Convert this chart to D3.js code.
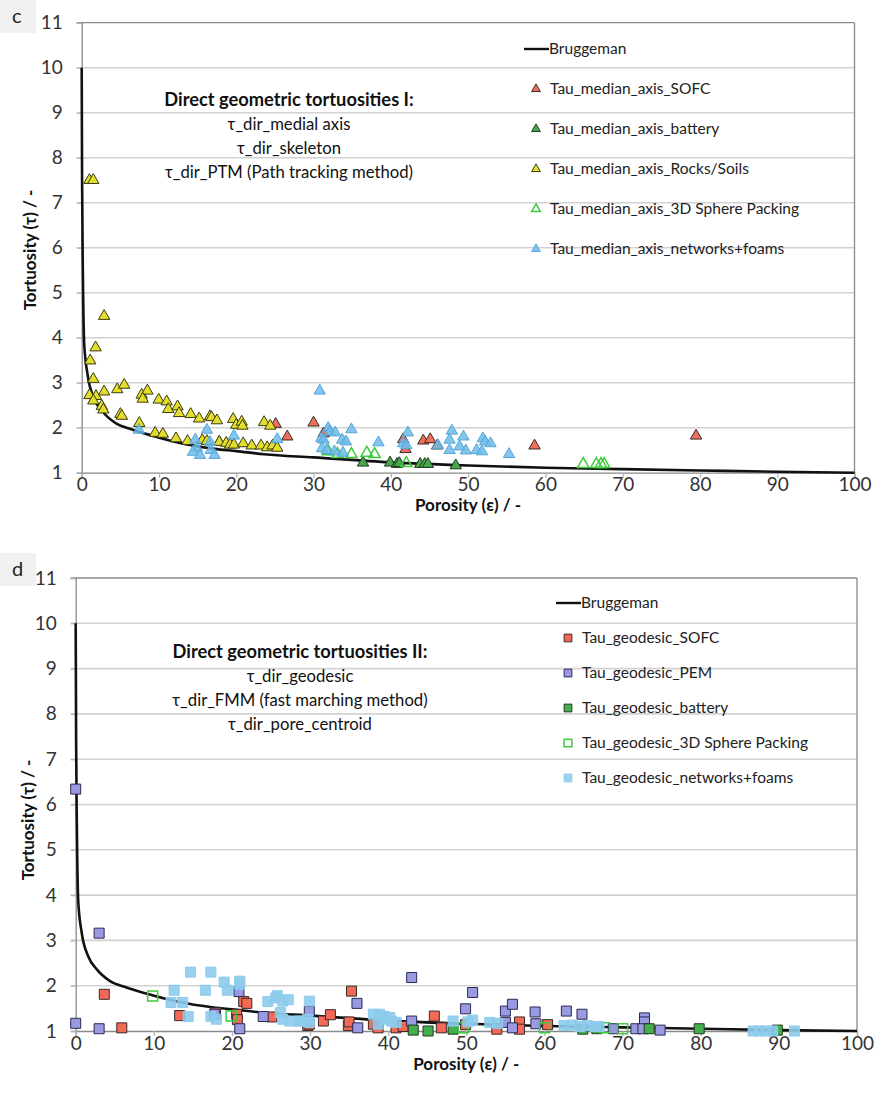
<!DOCTYPE html>
<html><head><meta charset="utf-8">
<script src="https://cdn.jsdelivr.net/npm/d3@7"></script>
<style>body{margin:0;background:#fff;} svg{display:block;font-family:Lato,'Open Sans',sans-serif;}</style>
</head><body><svg id="chart" width="877" height="1099"></svg>
<script>
// ---------- data ----------
const porosityTicks = [0,10,20,30,40,50,60,70,80,90,100];
const tortuosityTicks = [1,2,3,4,5,6,7,8,9,10,11];
const bruggemanPorosity = [0,0.05,0.15,0.33,0.77,1.6,2.7,4.4,6.5,9.8,13.3,17.2,20,23.6,30,40,50,60,70,80,90,100];
const bruggemanTau      = [10,7.5,5.5,3.85,3.17,2.65,2.36,2.1,1.96,1.79,1.64,1.53,1.48,1.41,1.34,1.23,1.16,1.11,1.08,1.05,1.02,1.0];

// panel c : median axis (triangles)
const cSOFC = [[17.8,1.68],[25.1,2.08],[26.6,1.8],[30.0,2.11],[31.3,1.87],[41.6,1.74],[41.9,1.52],[44.2,1.71],[45.1,1.74],[46.0,1.6],[58.6,1.6],[79.5,1.82]];
const cBattery = [[36.4,1.22],[39.9,1.22],[40.8,1.19],[41.1,1.21],[43.8,1.19],[44.4,1.19],[44.8,1.19],[48.4,1.16]];
const cRocks = [[1.0,7.5],[1.5,7.5],[2.9,4.48],[1.8,3.78],[1.1,3.49],[1.5,3.08],[1.0,2.72],[1.85,2.7],[1.5,2.6],[2.9,2.8],[2.6,2.48],[2.8,2.4],[4.6,2.85],[5.5,2.95],[5.0,2.3],[5.2,2.26],[7.45,2.1],[7.76,2.73],[8.5,2.82],[7.9,2.64],[9.96,2.62],[11.0,2.58],[11.2,2.41],[12.4,2.47],[12.6,2.32],[14.1,2.3],[15.2,2.2],[16.6,2.25],[16.8,2.23],[17.5,2.16],[19.6,2.19],[20.0,2.06],[20.7,2.13],[20.8,2.04],[23.6,2.12],[24.4,2.04],[9.5,1.88],[10.5,1.86],[12.2,1.76],[13.7,1.7],[15.6,1.72],[16.2,1.7],[17.8,1.68],[18.7,1.66],[19.2,1.62],[19.7,1.62],[20.9,1.65],[22.0,1.6],[23.2,1.6],[24.0,1.56],[24.7,1.6],[25.3,1.55]];
const cSphere = [[31.9,1.47],[33.1,1.41],[34.9,1.41],[36.9,1.44],[37.9,1.41],[42.0,1.21],[64.9,1.19],[66.6,1.19],[67.2,1.19],[67.6,1.19]];
const cNetworks = [[7.4,1.95],[14.7,1.73],[14.9,1.55],[14.4,1.46],[15.3,1.39],[16.2,1.95],[16.6,1.68],[16.7,1.5],[17.2,1.39],[19.7,1.82],[25.3,1.74],[30.8,2.82],[31.9,1.99],[32.1,1.91],[32.8,1.89],[31.0,1.76],[31.3,1.73],[31.1,1.54],[31.7,1.5],[32.7,1.47],[33.7,1.73],[34.2,1.69],[34.9,1.96],[33.8,1.44],[38.4,1.67],[42.2,1.89],[41.6,1.65],[42.0,1.61],[46.1,1.61],[47.6,1.73],[47.9,1.93],[49.4,1.8],[48.9,1.58],[49.7,1.49],[51.1,1.5],[51.9,1.76],[52.2,1.69],[52.9,1.65],[51.8,1.47],[47.6,1.5],[55.3,1.41]];

// panel d : geodesic (squares)
const dSOFC = [[3.66,1.81],[5.9,1.07],[13.3,1.34],[17.9,1.4],[21.5,1.65],[21.9,1.61],[20.6,1.37],[20.7,1.25],[25.1,1.31],[29.7,1.12],[29.9,1.15],[31.7,1.22],[32.6,1.36],[35.3,1.88],[34.9,1.12],[35.0,1.2],[38.1,1.15],[38.7,1.07],[41.0,1.07],[41.9,1.1],[45.9,1.33],[46.8,1.07],[49.9,1.14],[53.9,1.04],[56.8,1.2],[56.8,1.04],[60.4,1.14]];
const dPEM = [[0,6.34],[0,1.17],[3.0,1.05],[3.0,3.16],[20.9,1.87],[21.0,1.05],[17.8,1.37],[24.0,1.32],[29.9,1.43],[36.0,1.61],[36.1,1.07],[43.0,2.18],[43.0,1.22],[49.9,1.49],[50.8,1.85],[55.0,1.44],[55.9,1.59],[55.0,1.19],[55.9,1.07],[58.9,1.16],[58.8,1.42],[62.8,1.44],[64.8,1.37],[68.8,1.05],[71.7,1.05],[72.8,1.29],[72.8,1.2],[72.6,1.05],[74.8,1.02]];
const dBattery = [[43.2,1.02],[45.1,1.0],[48.3,1.04],[64.9,1.04],[66.7,1.05],[73.4,1.05],[79.8,1.05],[89.8,1.02]];
const dSphere = [[9.85,1.77],[19.9,1.33],[49.6,1.07],[60.0,1.07],[67.7,1.07],[70.0,1.05]];
const dNetworks = [[12.6,1.9],[12.2,1.63],[13.7,1.63],[14.4,1.32],[14.7,2.3],[17.3,2.3],[16.6,1.9],[19.0,2.08],[19.4,1.9],[21.0,2.1],[21.0,2.03],[17.3,1.32],[18.0,1.26],[24.6,1.65],[25.6,1.73],[25.8,1.78],[26.5,1.66],[27.2,1.69],[26.2,1.41],[26.5,1.26],[27.4,1.22],[28.6,1.22],[29.9,1.66],[29.7,1.26],[28.7,1.22],[29.9,1.19],[38.1,1.37],[38.9,1.37],[39.5,1.26],[40.4,1.22],[41.0,1.19],[38.7,1.15],[39.5,1.32],[40.2,1.3],[48.3,1.22],[50.8,1.24],[50.2,1.2],[53.0,1.19],[54.0,1.17],[62.5,1.12],[63.5,1.13],[64.5,1.1],[65.5,1.12],[66.5,1.1],[67.0,1.1],[86.7,1.0],[87.5,1.0],[88.3,1.0],[89.2,1.0],[92.0,1.0]];

const cAnnotation = ["Direct geometric tortuosities I:","τ_dir_medial axis","τ_dir_skeleton","τ_dir_PTM (Path tracking method)"];
const dAnnotation = ["Direct geometric tortuosities II:","τ_dir_geodesic","τ_dir_FMM (fast marching method)","τ_dir_pore_centroid"];
const cNames = ["Tau_median_axis_SOFC","Tau_median_axis_battery","Tau_median_axis_Rocks/Soils","Tau_median_axis_3D Sphere Packing","Tau_median_axis_networks+foams"];
const dNames = ["Tau_geodesic_SOFC","Tau_geodesic_PEM","Tau_geodesic_battery","Tau_geodesic_3D Sphere Packing","Tau_geodesic_networks+foams"];

// ---------- drawing ----------
const svg = d3.select("#chart");
const bruggeman = bruggemanPorosity.map((p,i)=>[p,bruggemanTau[i]]);

function drawPanel(o){
  const g = svg.append("g");
  const x = d3.scaleLinear().domain([0,100]).range([o.left,o.right]);
  const y = d3.scaleLinear().domain([1,11]).range([o.bottom,o.top]);

  // panel letter
  g.append("rect").attr("x",0).attr("y",o.letterY).attr("width",36).attr("height",33).attr("fill","#f1f1f1");
  g.append("text").attr("x",12).attr("y",o.letterY+23).attr("font-size",20).attr("fill","#222").text(o.letter);

  // gridlines
  g.append("g").selectAll("line").data(tortuosityTicks.slice(1,-1)).join("line")
    .attr("x1",o.left-5).attr("x2",o.right).attr("y1",d=>y(d)).attr("y2",d=>y(d))
    .attr("stroke","#d2d2d2").attr("stroke-width",1.6);
  // frame
  g.append("line").attr("x1",o.left-5).attr("x2",o.right).attr("y1",o.top).attr("y2",o.top).attr("stroke","#8a8a8a").attr("stroke-width",1.3);
  g.append("line").attr("x1",o.right).attr("x2",o.right).attr("y1",o.top).attr("y2",o.bottom).attr("stroke","#8a8a8a").attr("stroke-width",1.3);

  // axes
  const ya = g.append("g").attr("transform",`translate(${o.left},0)`)
    .call(d3.axisLeft(y).tickValues(tortuosityTicks).tickSize(5).tickPadding(o.yPad).tickFormat(d3.format("d")));
  const xa = g.append("g").attr("transform",`translate(0,${o.bottom})`)
    .call(d3.axisBottom(x).tickValues(porosityTicks).tickSize(5).tickPadding(0).tickFormat(d3.format("d")));
  [ya,xa].forEach(a=>{
    a.select(".domain").attr("stroke","#8a8a8a").attr("stroke-width",1.3);
    a.selectAll(".tick line").attr("stroke","#b5b5b5").attr("stroke-width",1.3);
    a.selectAll(".tick text").attr("font-size",19).attr("fill","#333").attr("font-family","Lato, sans-serif");
  });

  // axis titles
  g.append("text").attr("x",(o.left+o.right)/2).attr("y",o.xTitleY).attr("text-anchor","middle")
    .attr("font-size",17).attr("font-weight","bold").attr("fill","#111").text("Porosity (ε) / -");
  g.append("text").attr("transform",`translate(${o.yTitleX},${o.yTitleY}) rotate(-90)`).attr("text-anchor","middle")
    .attr("font-size",17).attr("font-weight","bold").attr("fill","#111").text("Tortuosity (τ) / -");

  // annotation
  o.annotation.forEach((t,i)=>{
    g.append("text").attr("x",o.annX).attr("y",o.annY + i*24).attr("text-anchor","middle")
      .attr("font-size",i===0?18.3:16.7).attr("font-weight",i===0?"bold":"normal").attr("fill","#111").text(t);
  });

  // Bruggeman line
  const line = d3.line().x(d=>x(d[0])).y(d=>y(d[1])).curve(d3.curveMonotoneX);
  g.append("path").datum(bruggeman).attr("d",line).attr("fill","none").attr("stroke","#111").attr("stroke-width",2.6);

  // scatter series
  o.series.forEach(s=>{
    const sym = d3.symbol().type(o.shape).size(o.size);
    g.append("g").selectAll("path").data(s.data).join("path")
      .attr("transform",d=>`translate(${x(d[0])},${y(d[1])})`).attr("d",sym)
      .attr("fill",s.fill).attr("fill-opacity",s.fo).attr("stroke",s.stroke).attr("stroke-width",s.sw);
  });

  // legend
  const lg = g.append("g");
  lg.append("line").attr("x1",o.legX-12).attr("x2",o.legX+13).attr("y1",o.legY).attr("y2",o.legY).attr("stroke","#111").attr("stroke-width",2.4);
  lg.append("text").attr("x",o.legX+13).attr("y",o.legY+5).attr("font-size",15.5).attr("fill","#222").text("Bruggeman");
  o.series.forEach((s,i)=>{
    const yy = o.legY + (i+1)*o.legStep;
    lg.append("path").attr("transform",`translate(${o.legX},${yy})`).attr("d",d3.symbol().type(o.shape).size(o.size*0.6))
      .attr("fill",s.fill).attr("fill-opacity",s.fo).attr("stroke",s.stroke).attr("stroke-width",s.sw);
    lg.append("text").attr("x",o.legX+14).attr("y",yy+5).attr("font-size",15.5).attr("fill","#222").text(o.names[i]);
  });
}

drawPanel({
  letter:"c", letterY:0, left:81.7, right:854.5, top:22.7, bottom:472.7, yPad:14,
  xTitleY:511, yTitleX:36, yTitleY:250,
  annX:289, annY:106, annotation:cAnnotation,
  shape:d3.symbolTriangle, size:56,
  legX:536, legY:49, legStep:40, names:cNames,
  series:[
    {data:cSOFC, fill:"#ef6f5a", fo:1, stroke:"#3a2a28", sw:1},
    {data:cBattery, fill:"#45a84a", fo:1, stroke:"#1f3a20", sw:1},
    {data:cRocks, fill:"#e3de2c", fo:1, stroke:"#3a3a10", sw:1},
    {data:cSphere, fill:"#ffffff", fo:0, stroke:"#3ccc3c", sw:1.5},
    {data:cNetworks, fill:"#6fbbe8", fo:0.85, stroke:"#55a7dc", sw:1}
  ]
});

drawPanel({
  letter:"d", letterY:553, left:75.7, right:857, top:578, bottom:1031, yPad:14,
  xTitleY:1070, yTitleX:34, yTitleY:820,
  annX:300, annY:658, annotation:dAnnotation,
  shape:d3.symbolSquare, size:100,
  legX:568, legY:603, legStep:35, names:dNames,
  series:[
    {data:dSOFC, fill:"#f26a55", fo:1, stroke:"#3a2a28", sw:1},
    {data:dPEM, fill:"#9a9ae2", fo:1, stroke:"#2a2a55", sw:1},
    {data:dBattery, fill:"#46ad4c", fo:1, stroke:"#1f3a20", sw:1},
    {data:dSphere, fill:"#ffffff", fo:0, stroke:"#3ccc3c", sw:1.5},
    {data:dNetworks, fill:"#8dcbec", fo:0.9, stroke:"#8dcbec", sw:1}
  ]
});
</script></body></html>
